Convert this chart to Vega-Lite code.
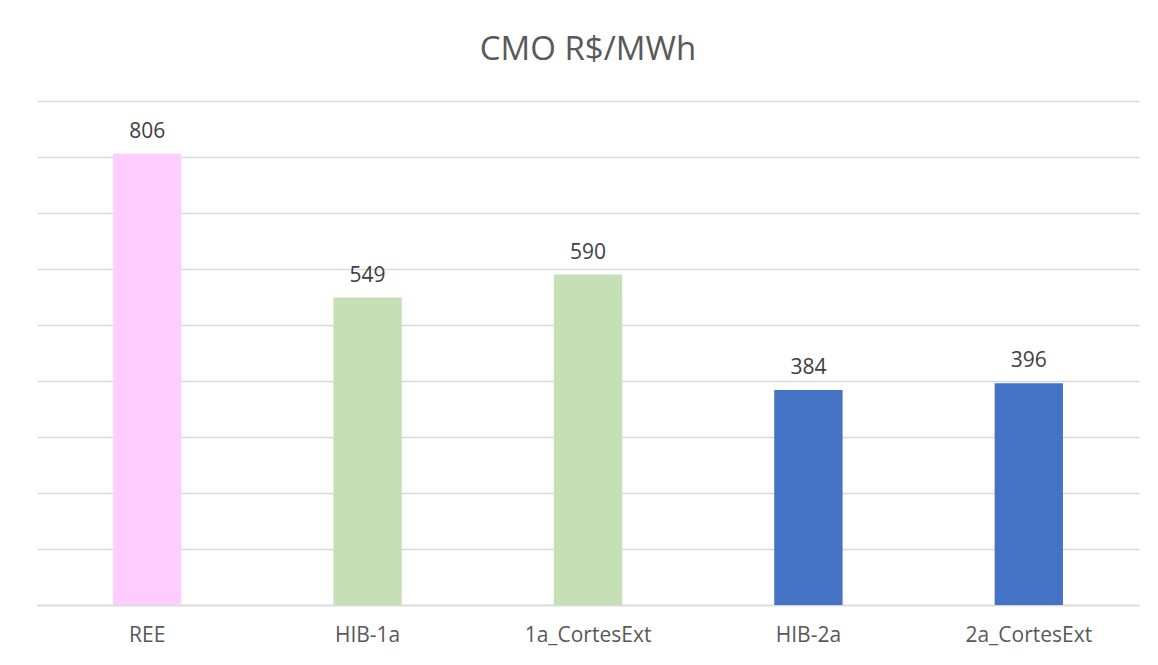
{
  "$schema": "https://vega.github.io/schema/vega-lite/v6.json",
  "autosize": "none",
  "width": 1102,
  "height": 504,
  "padding": {"left": 37, "top": 101, "right": 19, "bottom": 60},
  "background": "white",
  "title": {
    "text": "CMO R$/MWh",
    "fontSize": 33,
    "font": "Open Sans",
    "fontWeight": "normal",
    "color": "#595959",
    "anchor": "middle",
    "offset": 34
  },
  "data": {
    "values": [
      {"cenario": "REE", "cmo": 806, "grupo": "REE"},
      {"cenario": "HIB-1a", "cmo": 549, "grupo": "1a"},
      {"cenario": "1a_CortesExt", "cmo": 590, "grupo": "1a"},
      {"cenario": "HIB-2a", "cmo": 384, "grupo": "2a"},
      {"cenario": "2a_CortesExt", "cmo": 396, "grupo": "2a"}
    ]
  },
  "encoding": {
    "x": {
      "field": "cenario",
      "type": "nominal",
      "sort": null,
      "scale": {"paddingInner": 0.69, "paddingOuter": 0.345},
      "axis": {
        "title": null,
        "labelAngle": 0,
        "labelFont": "Open Sans",
        "labelFontSize": 21,
        "labelColor": "#595959",
        "labelPadding": 19,
        "ticks": false,
        "domainColor": "#d9d9d9",
        "domainWidth": 1.5
      }
    },
    "y": {
      "field": "cmo",
      "type": "quantitative",
      "scale": {"domain": [0, 900]},
      "axis": {
        "title": null,
        "labels": false,
        "ticks": false,
        "domain": false,
        "values": [0, 100, 200, 300, 400, 500, 600, 700, 800, 900],
        "grid": true,
        "gridColor": "#d9d9d9",
        "gridWidth": 1.5
      }
    }
  },
  "layer": [
    {
      "mark": {"type": "bar"},
      "encoding": {
        "color": {
          "field": "grupo",
          "type": "nominal",
          "scale": {"domain": ["REE", "1a", "2a"], "range": ["#FFCCFF", "#C5E0B4", "#4472C4"]},
          "legend": null
        }
      }
    },
    {
      "mark": {"type": "text", "baseline": "bottom", "dy": -12, "font": "Open Sans", "fontSize": 21, "color": "#404040"},
      "encoding": {"text": {"field": "cmo", "type": "quantitative"}}
    }
  ],
  "config": {"view": {"stroke": null}}
}
